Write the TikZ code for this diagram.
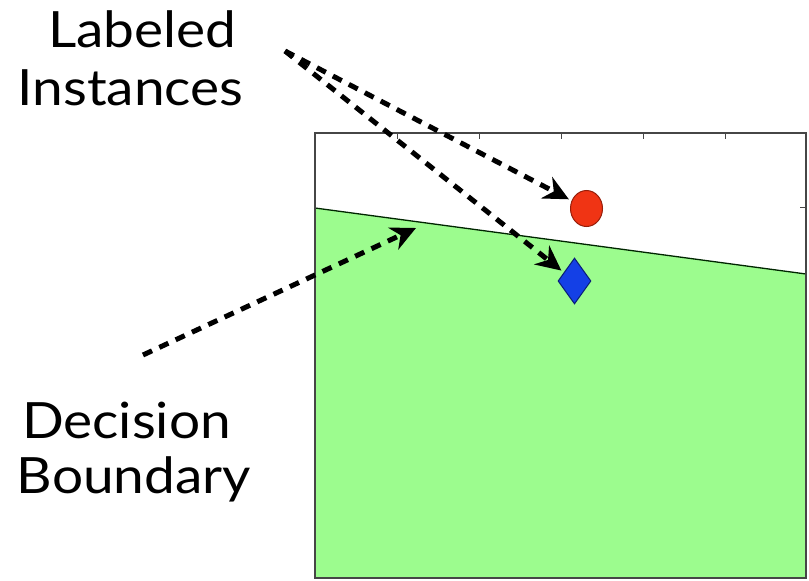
\documentclass[tikz,border=0pt]{standalone}
\usepackage{fontspec}
\setmainfont{Lato}
\usetikzlibrary{arrows.meta,shapes.geometric}
\definecolor{regiongreen}{RGB}{156,252,142}
\definecolor{dotred}{RGB}{240,52,20}
\definecolor{dotredline}{RGB}{150,30,10}
\definecolor{dotblue}{RGB}{20,64,230}
\definecolor{dotblueline}{RGB}{10,30,120}
\definecolor{framegray}{RGB}{70,70,70}
\newcommand{\widetext}[1]{\scalebox{1.1}[1]{#1}}
\tikzset{
  lbl/.style={font=\fontsize{50}{58}\selectfont, inner sep=0pt, anchor=base},
  ptr/.style={line width=5pt, dash pattern=on 10pt off 8pt, -{Stealth[length=25pt,width=24pt,inset=8pt]}},
  tickmark/.style={line width=1pt, framegray},
}
\begin{document}
\begin{tikzpicture}[x=1pt,y=-1pt]
\useasboundingbox (0,0) rectangle (809,581);
% green region
\fill[regiongreen] (315,208) -- (806,274) -- (806,578) -- (315,578) -- cycle;
% boundary line
\draw[line width=1.3pt, black!85!green] (315,208) -- (806,274);
% frame
\draw[line width=1.5pt, framegray] (315,133) rectangle (806,578);
% ticks
\foreach \tx in {397,479,561,643,725} {
  \draw[tickmark] (\tx,133) -- (\tx,139);
}
\foreach \ty in {207} {
  \draw[tickmark] (806,\ty) -- (800,\ty);
}
% instances
\node[ellipse, draw=dotredline, fill=dotred, line width=1pt, minimum width=32pt, minimum height=36pt, inner sep=0pt] (circ) at (586.5,208.5) {};
\node[diamond, draw=dotblueline, fill=dotblue, line width=1pt, minimum width=33pt, minimum height=46pt, inner sep=0pt] (diam) at (574.5,281) {};
% labels
\node[lbl] (lab1) at (142.5,47) {\widetext{Labeled}};
\node[lbl] (lab2) at (130.5,105) {\widetext{Instances}};
\node[lbl] (dec1) at (126.5,438) {\widetext{Decision}};
\node[lbl] (dec2) at (134,493) {\widetext{Boundary}};
% pointers
\coordinate (src) at (285,51);
\coordinate (dsrc) at (143,355);
\coordinate (btgt) at (416,228);
\draw[ptr, shorten >=3pt] (src) -- (circ);
\draw[ptr, shorten >=3pt] (src) -- (diam);
\draw[ptr] (dsrc) -- (btgt);
\end{tikzpicture}
\end{document}
